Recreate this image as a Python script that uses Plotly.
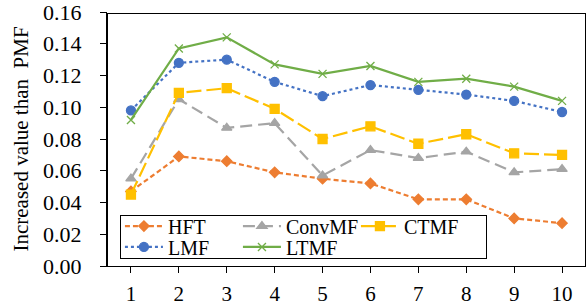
import plotly.graph_objects as go

x_vals = [1, 2, 3, 4, 5, 6, 7, 8, 9, 10]
tick_labels = ["1", "2", "3", "4", "5", "6", "7", "8", "9", "10"]
hft = [0.047, 0.069, 0.066, 0.059, 0.055, 0.052, 0.042, 0.042, 0.030, 0.027]
convmf = [0.055, 0.105, 0.087, 0.090, 0.057, 0.073, 0.068, 0.072, 0.059, 0.061]
ctmf = [0.045, 0.109, 0.112, 0.099, 0.080, 0.088, 0.077, 0.083, 0.071, 0.070]
lmf = [0.098, 0.128, 0.130, 0.116, 0.107, 0.114, 0.111, 0.108, 0.104, 0.097]
ltmf = [0.092, 0.137, 0.144, 0.127, 0.121, 0.126, 0.116, 0.118, 0.113, 0.104]
y_ticks = [0.00, 0.02, 0.04, 0.06, 0.08, 0.10, 0.12, 0.14, 0.16]
y_tick_text = ["0.00", "0.02", "0.04", "0.06", "0.08", "0.10", "0.12", "0.14", "0.16"]

FONT = "Liberation Serif"

series = [
    ("HFT", hft, "#ED7D31", "5px,3px", "diamond", 8, "legend"),
    ("ConvMF", convmf, "#A5A5A5", "12px,6px", "triangle-up", 9, "legend"),
    ("CTMF", ctmf, "#FFC000", "15px,5px", "square", 9, "legend"),
    ("LMF", lmf, "#4472C4", "dot", "circle", 9, "legend2"),
    ("LTMF", ltmf, "#70AD47", "solid", "x-thin-open", 8, "legend2"),
]

fig = go.Figure()
for name, vals, color, dash, sym, size, leg in series:
    fig.add_trace(go.Scatter(
        x=x_vals, y=vals, name=name, mode="lines+markers", legend=leg,
        line=dict(color=color, width=2.2, dash=dash),
        marker=dict(symbol=sym, size=size, color=color,
                    line=dict(color=color, width=1.3)),
    ))

legend_common = dict(
    orientation="h", x=0.027, xanchor="left", yanchor="middle",
    bgcolor="rgba(0,0,0,0)", borderwidth=0,
    font=dict(family=FONT, size=20, color="black"),
    entrywidth=65, itemwidth=38,
)

box_common = dict(
    xref="paper", yref="paper", xanchor="center", yanchor="middle",
    showarrow=False, text=".", font=dict(size=8, color="rgba(0,0,0,0)"),
    align="right", valign="bottom", borderpad=0,
    bordercolor="black", borderwidth=1, bgcolor="rgba(0,0,0,0)",
)

edge_common = dict(
    xref="paper", yref="paper", axref="pixel", ayref="pixel", text="",
    showarrow=True, arrowhead=0, arrowwidth=1, arrowcolor="black",
    standoff=0, startstandoff=0,
)

fig.update_layout(
    width=587, height=308,
    margin=dict(l=107, r=1, t=12, b=42, autoexpand=False),
    paper_bgcolor="white", plot_bgcolor="white",
    font=dict(family=FONT, size=21, color="black"),
    showlegend=True,
    legend=dict(y=0.157, **legend_common),
    legend2=dict(y=0.075, **legend_common),
    annotations=[
        # legend box outline
        dict(x=0.4102, y=0.1142, width=365, height=42, **box_common),
        # plot frame outline
        dict(x=0.5, y=0.49606, width=477, height=252, **box_common),
        # top and right frame edges
        dict(x=0.99896, y=0.99409, ax=-478, ay=0, **edge_common),
        dict(x=0.99896, y=0.0, ax=0, ay=-252, **edge_common),
    ],
    xaxis=dict(
        range=[0.5, 10.5], tickmode="array", tickvals=x_vals, ticktext=tick_labels,
        showline=True, linecolor="black", linewidth=1,
        ticks="outside", ticklen=6, tickcolor="black", showgrid=False,
        zeroline=False, ticklabelstandoff=3,
        tickfont=dict(family=FONT, size=21),
    ),
    yaxis=dict(
        range=[0, 0.16], tickmode="array", tickvals=y_ticks, ticktext=y_tick_text,
        showline=True, linecolor="black", linewidth=1,
        ticks="outside", ticklen=6, tickcolor="black", showgrid=False,
        zeroline=False, ticklabelstandoff=14, ticklabeloverflow="allow",
        tickfont=dict(family=FONT, size=22),
        title=dict(text="Increased value than  PMF", standoff=8,
                   font=dict(family=FONT, size=21)),
    ),
)

fig.write_html("out.html", config={"displayModeBar": False},
               post_script="document.body.style.margin='0';")
